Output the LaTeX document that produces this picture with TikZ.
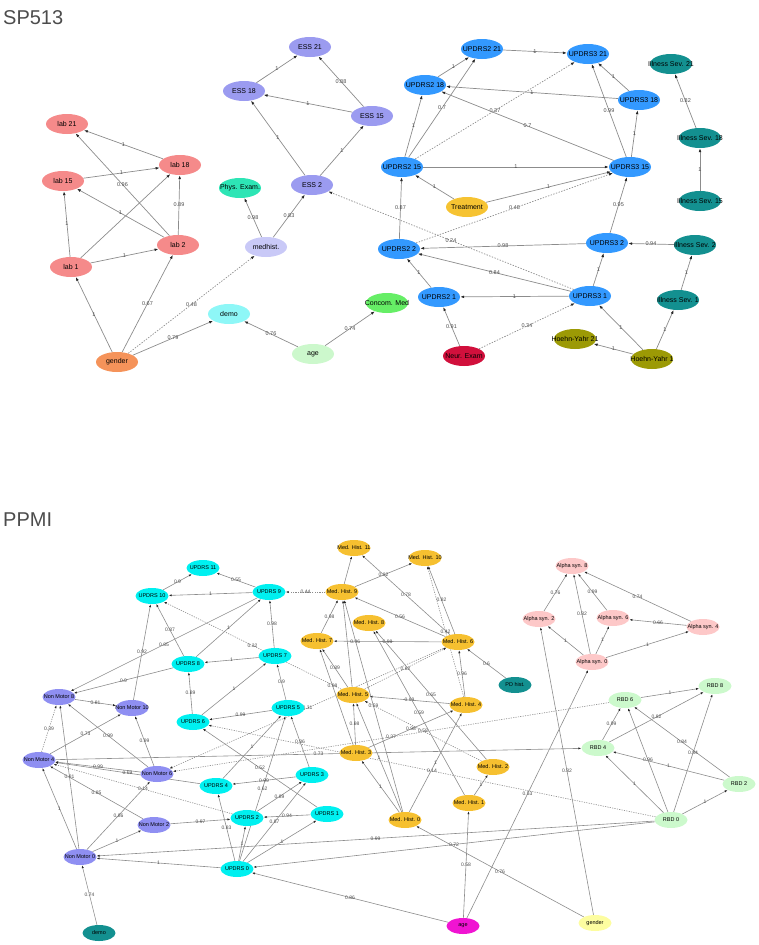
\documentclass[tikz,border=0pt]{standalone}
\usepackage{fontspec}
\setmainfont{Liberation Sans}
\definecolor{LAB}{HTML}{F58A8A}
\definecolor{GENDER}{HTML}{F5935A}
\definecolor{DEMO}{HTML}{8EF7F7}
\definecolor{PHYS}{HTML}{2DE5B5}
\definecolor{MEDH}{HTML}{C9C9F7}
\definecolor{ESS}{HTML}{9B9BF0}
\definecolor{AGE}{HTML}{CCF8CC}
\definecolor{CONCOM}{HTML}{66EE66}
\definecolor{UPD}{HTML}{3399FF}
\definecolor{TEAL}{HTML}{139090}
\definecolor{TREAT}{HTML}{F6C332}
\definecolor{NEUR}{HTML}{D1103C}
\definecolor{HOEHN}{HTML}{9C9A05}
\definecolor{CYAN}{HTML}{00F0F0}
\definecolor{NONM}{HTML}{8F8FF2}
\definecolor{MH}{HTML}{F6C030}
\definecolor{ALPHA}{HTML}{FDC8C8}
\definecolor{RBD}{HTML}{CCF9CC}
\definecolor{MAGENTA}{HTML}{F014D2}
\definecolor{YELLOW}{HTML}{FDFDA0}
\usetikzlibrary{shapes,arrows.meta,backgrounds}

\begin{document}
\begin{tikzpicture}
[x=1pt, y=-1pt,
clip text/.style={execute at begin node={\hbox to 0pt\bgroup\hss}, execute at end node={\hss\egroup}},
enode/.style={ellipse, minimum width=42, minimum height=20, inner sep=0pt, clip text, font=\fontsize{7}{8}\selectfont},
snode/.style={ellipse, minimum width=33, minimum height=16, inner sep=0pt, clip text, font=\fontsize{5.5}{6}\selectfont},
dedge/.style={draw=black!45, line width=0.7pt, -{Latex[length=4pt,width=2.8pt,black!85]}},
dotedge/.style={dedge, dash pattern=on 1.4pt off 1.4pt},
sedge/.style={draw=black!45, line width=0.6pt, -{Latex[length=3pt,width=2.2pt,black!85]}},
sdotedge/.style={sedge, dash pattern=on 1.2pt off 1.2pt},
wl/.style={midway, inner sep=0pt, text=black!70, font=\fontsize{5.5}{6}\selectfont},
swl/.style={midway, inner sep=0pt, text=black!70, font=\fontsize{5}{6}\selectfont},
title/.style={anchor=west, inner sep=0pt, text=black!70, font=\fontsize{20}{24}\selectfont}]
\useasboundingbox (0,0) rectangle (758,945);

\node[title] (t1) at (3,18) {SP513};
\node[title] (t2) at (3,520) {PPMI};

% SP513
\node[enode,fill=LAB] (l21) at (67,124) {lab 21};
\node[enode,fill=LAB] (l18) at (180,165) {lab 18};
\node[enode,fill=LAB] (l15) at (63,181) {lab 15};
\node[enode,fill=LAB] (l2) at (178,245) {lab 2};
\node[enode,fill=LAB] (l1) at (71,267) {lab 1};
\node[enode,fill=GENDER] (gen) at (117,362) {gender};
\node[enode,fill=DEMO] (dem) at (229,314) {demo};
\node[enode,fill=PHYS] (phy) at (240,188) {Phys. Exam.};
\node[enode,fill=MEDH] (mh) at (266,247) {medhist.};
\node[enode,fill=ESS] (e2) at (312,185) {ESS 2};
\node[enode,fill=ESS] (e18) at (244,91) {ESS 18};
\node[enode,fill=ESS] (e21) at (310,47) {ESS 21};
\node[enode,fill=ESS] (e15) at (372,116) {ESS 15};
\node[enode,fill=AGE] (ag) at (313,354) {age};
\node[enode,fill=CONCOM] (con) at (387,303) {Concom. Med};
\node[enode,fill=UPD] (u215) at (402,167) {UPDRS2 15};
\node[enode,fill=UPD] (u218) at (425,85) {UPDRS2 18};
\node[enode,fill=UPD] (u221) at (482,49) {UPDRS2 21};
\node[enode,fill=UPD] (u321) at (588,54) {UPDRS3 21};
\node[enode,fill=UPD] (u318) at (639,100) {UPDRS3 18};
\node[enode,fill=UPD] (u315) at (630,167) {UPDRS3 15};
\node[enode,fill=TEAL] (is21) at (671,64) {Illness Sev. 21};
\node[enode,fill=TEAL] (is18) at (700,138) {Illness Sev. 18};
\node[enode,fill=TEAL] (is15) at (700,201) {Illness Sev. 15};
\node[enode,fill=TREAT] (tr) at (467,207) {Treatment};
\node[enode,fill=UPD] (u22) at (399,249) {UPDRS2 2};
\node[enode,fill=UPD] (u32) at (607,243) {UPDRS3 2};
\node[enode,fill=TEAL] (is2) at (695,245) {Illness Sev. 2};
\node[enode,fill=UPD] (u21) at (439,297) {UPDRS2 1};
\node[enode,fill=UPD] (u31) at (590,296) {UPDRS3 1};
\node[enode,fill=TEAL] (is1) at (678,300) {Illness Sev. 1};
\node[enode,fill=NEUR] (ne) at (464,356) {Neur. Exam};
\node[enode,fill=HOEHN] (hy21) at (575,339) {Hoehn-Yahr 21};
\node[enode,fill=HOEHN] (hy1) at (652,359) {Hoehn-Yahr 1};

% PPMI
\node[snode,fill=CYAN] (u11) at (203,568) {UPDRS 11};
\node[snode,fill=CYAN] (u10) at (152,596) {UPDRS 10};
\node[snode,fill=CYAN] (u9) at (269,592) {UPDRS 9};
\node[snode,fill=CYAN] (u8) at (188,664) {UPDRS 8};
\node[snode,fill=CYAN] (u7) at (275,656) {UPDRS 7};
\node[snode,fill=CYAN] (u6) at (193,722) {UPDRS 6};
\node[snode,fill=CYAN] (u5) at (288,708) {UPDRS 5};
\node[snode,fill=CYAN] (u4) at (216,786) {UPDRS 4};
\node[snode,fill=CYAN] (u3) at (312,775) {UPDRS 3};
\node[snode,fill=CYAN] (u2) at (247,818) {UPDRS 2};
\node[snode,fill=CYAN] (u1) at (327,814) {UPDRS 1};
\node[snode,fill=CYAN] (u0) at (237,869) {UPDRS 0};
\node[snode,fill=NONM] (nm8) at (59,697) {Non Motor 8};
\node[snode,fill=NONM] (nm10) at (132,708) {Non Motor 10};
\node[snode,fill=NONM] (nm4) at (39,760) {Non Motor 4};
\node[snode,fill=NONM] (nm6) at (157,774) {Non Motor 6};
\node[snode,fill=NONM] (nm2) at (154,825) {Non Motor 2};
\node[snode,fill=NONM] (nm0) at (80,857) {Non Motor 0};
\node[snode,fill=TEAL] (bdem) at (99,933) {demo};
\node[snode,fill=MH] (m11) at (354,548) {Med. Hist. 11};
\node[snode,fill=MH] (m10) at (425,558) {Med. Hist. 10};
\node[snode,fill=MH] (m9) at (342,592) {Med. Hist. 9};
\node[snode,fill=MH] (m8) at (369,623) {Med. Hist. 8};
\node[snode,fill=MH] (m7) at (317,641) {Med. Hist. 7};
\node[snode,fill=MH] (m6) at (458,642) {Med. Hist. 6};
\node[snode,fill=MH] (m5) at (353,695) {Med. Hist. 5};
\node[snode,fill=MH] (m4) at (466,705) {Med. Hist. 4};
\node[snode,fill=MH] (m3) at (356,753) {Med. Hist. 3};
\node[snode,fill=MH] (m2) at (493,767) {Med. Hist. 2};
\node[snode,fill=MH] (m1) at (469,803) {Med. Hist. 1};
\node[snode,fill=MH] (m0) at (405,820) {Med. Hist. 0};
\node[snode,fill=TEAL] (pd) at (515,685) {PD hist.};
\node[snode,fill=MAGENTA] (bage) at (463,926) {age};
\node[snode,fill=YELLOW] (bgen) at (595,923) {gender};
\node[snode,fill=ALPHA] (a8) at (572,566) {Alpha syn. 8};
\node[snode,fill=ALPHA] (a2) at (539,619) {Alpha syn. 2};
\node[snode,fill=ALPHA] (a6) at (613,618) {Alpha syn. 6};
\node[snode,fill=ALPHA] (a4) at (703,627) {Alpha syn. 4};
\node[snode,fill=ALPHA] (a0) at (592,662) {Alpha syn. 0};
\node[snode,fill=RBD] (r8) at (715,686) {RBD 8};
\node[snode,fill=RBD] (r6) at (625,700) {RBD 6};
\node[snode,fill=RBD] (r4) at (598,748) {RBD 4};
\node[snode,fill=RBD] (r2) at (739,784) {RBD 2};
\node[snode,fill=RBD] (r0) at (671,820) {RBD 0};

\begin{scope}[on background layer]
% SP513 edges
\draw[dedge] (l18) -- (l21) node[wl] {1};
\draw[dedge] (l15) -- (l18) node[wl] {1};
\draw[dedge] (l2) -- (l21) node[wl] {0.96};
\draw[dedge] (l2) -- (l15) node[wl] {1};
\draw[dedge] (l2) -- (l18) node[wl] {0.89};
\draw[dedge] (l1) -- (l15) node[wl] {1};
\draw[dedge] (l1) -- (l18);
\draw[dedge] (l1) -- (l2) node[wl] {1};
\draw[dedge] (gen) -- (l1) node[wl] {1};
\draw[dedge] (gen) -- (l2) node[wl] {0.67};
\draw[dotedge] (gen) -- (mh) node[wl] {0.48};
\draw[dedge] (gen) -- (dem) node[wl] {0.79};
\draw[dedge] (mh) -- (phy) node[wl] {0.98};
\draw[dedge] (mh) -- (e2) node[wl] {0.83};
\draw[dedge] (ag) -- (dem) node[wl] {0.76};
\draw[dedge] (ag) -- (con) node[wl] {0.74};
\draw[dedge] (e2) -- (e18) node[wl] {1};
\draw[dedge] (e2) -- (e15) node[wl] {1};
\draw[dedge] (e18) -- (e21) node[wl] {1};
\draw[dedge] (e15) -- (e21) node[wl] {0.88};
\draw[dedge] (e15) -- (e18) node[wl] {1};
\draw[dotedge] (u31) -- (e2) node[wl] {0.24};
\draw[dedge] (u215) -- (u218) node[wl] {1};
\draw[dedge] (u215) -- (u221) node[wl] {0.7};
\draw[dotedge] (u215) -- (u321) node[wl] {0.37};
\draw[dedge] (u215) -- (u315) node[wl] {1};
\draw[dedge] (u218) -- (u221) node[wl] {1};
\draw[dedge] (u221) -- (u321) node[wl] {1};
\draw[dedge] (u318) -- (u218) node[wl] {1};
\draw[dedge] (u315) -- (u218) node[wl] {0.7};
\draw[dedge] (u318) -- (u321) node[wl] {1};
\draw[dedge] (u315) -- (u321) node[wl] {0.99};
\draw[dedge] (u315) -- (u318) node[wl] {1};
\draw[dedge] (tr) -- (u215) node[wl] {1};
\draw[dedge] (tr) -- (u315) node[wl] {1};
\draw[dotedge] (u22) -- (u315) node[wl] {0.48};
\draw[dedge] (u22) -- (u215) node[wl] {0.87};
\draw[dedge] (u32) -- (u315) node[wl] {0.95};
\draw[dedge] (u32) -- (u22) node[wl] {0.98};
\draw[dedge] (is2) -- (u32) node[wl] {0.94};
\draw[dedge] (u31) -- (u22) node[wl] {0.84};
\draw[dedge] (u31) -- (u32) node[wl] {1};
\draw[dedge] (u31) -- (u21) node[wl] {1};
\draw[dedge] (u21) -- (u22) node[wl] {1};
\draw[dedge] (ne) -- (u21) node[wl] {0.91};
\draw[dotedge] (ne) -- (u31) node[wl] {0.34};
\draw[dedge] (hy1) -- (u31) node[wl] {1};
\draw[dedge] (hy1) -- (hy21) node[wl] {1};
\draw[dedge] (hy1) -- (is1) node[wl] {1};
\draw[dedge] (is1) -- (is2) node[wl] {1};
\draw[dedge] (is15) -- (is18) node[wl] {1};
\draw[dedge] (is18) -- (is21) node[wl] {0.82};

% PPMI edges
\draw[sedge] (u10) -- (u11) node[swl] {0.9};
\draw[sedge] (u9) -- (u11) node[swl] {0.55};
\draw[sedge] (u9) -- (u10) node[swl] {1};
\draw[sdotedge] (m9) -- (u9) node[swl] {0.44};
\draw[sdotedge] (m5) -- (u10) node[swl] {0.32};
\draw[sedge] (u8) -- (u10) node[swl] {0.87};
\draw[sedge] (u8) -- (u9) node[swl] {1};
\draw[sedge] (u9) -- (nm8) node[swl] {0.85};
\draw[sedge] (u8) -- (nm8) node[swl] {0.9};
\draw[sedge] (nm10) -- (u10) node[swl] {0.92};
\draw[sedge] (u7) -- (u9) node[swl] {0.98};
\draw[sedge] (u7) -- (u8) node[swl] {1};
\draw[sedge] (u6) -- (u8) node[swl] {0.89};
\draw[sedge] (u6) -- (u7) node[swl] {1};
\draw[sedge] (u5) -- (u7) node[swl] {0.9};
\draw[sedge] (u5) -- (u6) node[swl] {0.99};
\draw[sdotedge] (m6) -- (nm6) node[swl] {0.31};
\draw[sedge] (nm8) -- (nm10) node[swl] {0.81};
\draw[sdotedge] (nm4) -- (nm8) node[swl] {0.39};
\draw[sedge] (nm4) -- (nm10) node[swl] {0.73};
\draw[sedge] (nm6) -- (nm8) node[swl] {0.99};
\draw[sedge] (nm6) -- (nm10) node[swl] {0.99};
\draw[sedge] (nm6) -- (nm4) node[swl] {0.99};
\draw[sedge] (u4) -- (nm4) node[swl] {0.69};
\draw[sedge] (nm0) -- (nm8) node[swl] {0.81};
\draw[sdotedge] (u2) -- (nm4) node[swl] {0.14};
\draw[sedge] (nm2) -- (nm4) node[swl] {0.85};
\draw[sedge] (nm0) -- (nm6) node[swl] {0.86};
\draw[sedge] (nm0) -- (nm4) node[swl] {1};
\draw[sedge] (nm0) -- (nm2) node[swl] {1};
\draw[sedge] (bdem) -- (nm0) node[swl] {0.74};
\draw[sedge] (u0) -- (nm0) node[swl] {1};
\draw[sedge] (r0) -- (nm0) node[swl] {0.99};
\draw[sedge] (u0) -- (u1) node[swl] {1};
\draw[sedge] (r0) -- (u0) node[swl] {0.72};
\draw[sedge] (bage) -- (u0) node[swl] {0.86};
\draw[sedge] (u0) -- (u4) node[swl] {0.83};
\draw[sedge] (u0) -- (u2) node[swl] {1};
\draw[sedge] (u0) -- (u3) node[swl] {0.87};
\draw[sedge] (u0) -- (u5) node[swl] {0.62};
\draw[sedge] (u1) -- (u6) node[swl] {0.52};
\draw[sedge] (u2) -- (u3) node[swl] {0.89};
\draw[sedge] (u1) -- (u2) node[swl] {0.94};
\draw[sedge] (u3) -- (u4) node[swl] {0.99};
\draw[sedge] (nm2) -- (u2) node[swl] {0.97};
\draw[sedge] (u4) -- (u5) node[swl] {1};
\draw[sedge] (u3) -- (u5) node[swl] {0.86};
\draw[sdotedge] (r0) -- (u6) node[swl] {0.14};
\draw[sedge] (nm4) -- (r4) node[swl] {0.73};
\draw[sdotedge] (r6) -- (nm6) node[swl] {0.37};
\draw[sedge] (m9) -- (m11);
\draw[sedge] (m9) -- (m10) node[swl] {0.82};
\draw[sedge] (m6) -- (m11) node[swl] {0.78};
\draw[sedge] (m6) -- (m10) node[swl] {0.82};
\draw[sdotedge] (m4) -- (m10) node[swl] {0.42};
\draw[sedge] (m7) -- (m9) node[swl] {0.98};
\draw[sedge] (m6) -- (m9) node[swl] {0.56};
\draw[sedge] (m6) -- (m7) node[swl] {0.98} node[swl,pos=0.8] {0.96};
\draw[sedge] (m5) -- (m7) node[swl] {0.89};
\draw[sdotedge] (m5) -- (m6) node[swl] {0.82};
\draw[sedge] (m5) -- (m9);
\draw[sedge] (m4) -- (m6) node[swl] {0.96};
\draw[sedge] (pd) -- (m6) node[swl] {0.6};
\draw[sedge] (m3) -- (m5) node[swl] {0.98};
\draw[sedge] (m4) -- (m5) node[swl] {0.99};
\draw[sedge] (m0) -- (m9) node[swl] {0.59};
\draw[sedge] (m2) -- (m8) node[swl] {0.65};
\draw[sedge] (m1) -- (m8) node[swl] {0.59};
\draw[sedge] (m3) -- (m4) node[swl] {0.98};
\draw[sedge] (m3) -- (m7) node[swl,pos=0.62] {0.98};
\draw[sdotedge] (m2) -- (m5) node[swl] {0.58};
\draw[sedge] (m0) -- (m3) node[swl] {1};
\draw[sedge] (m0) -- (m4) node[swl] {1};
\draw[sedge] (m0) -- (m5) node[swl] {1};
\draw[sedge] (m1) -- (m2) node[swl] {1};
\draw[sedge] (bage) -- (m1) node[swl] {0.58};
\draw[sedge] (bgen) -- (m0) node[swl] {0.76};
\draw[sedge] (bage) -- (a0) node[swl] {0.53};
\draw[sedge] (bgen) -- (a2) node[swl] {0.82};
\draw[sedge] (a2) -- (a8) node[swl] {0.76};
\draw[sedge] (a0) -- (a8) node[swl] {0.82};
\draw[sedge] (a6) -- (a8) node[swl] {0.99};
\draw[sedge] (a4) -- (a8) node[swl] {0.74};
\draw[sedge] (a4) -- (a6) node[swl] {0.66};
\draw[sedge] (a0) -- (a2) node[swl] {1};
\draw[sedge] (a0) -- (a6) node[swl] {1};
\draw[sedge] (a0) -- (a4) node[swl] {1};
\draw[sedge] (r6) -- (r8) node[swl] {1};
\draw[sedge] (r4) -- (r6) node[swl] {0.99};
\draw[sedge] (r4) -- (r8) node[swl] {0.82};
\draw[sedge] (r2) -- (r6) node[swl] {0.84};
\draw[sedge] (r0) -- (r8) node[swl] {0.84};
\draw[sedge] (r0) -- (r6) node[swl] {0.96};
\draw[sedge] (r2) -- (r4) node[swl] {1};
\draw[sedge] (r0) -- (r4) node[swl] {1};
\draw[sedge] (r0) -- (r2) node[swl] {1};
\end{scope}
\end{tikzpicture}
\end{document}
